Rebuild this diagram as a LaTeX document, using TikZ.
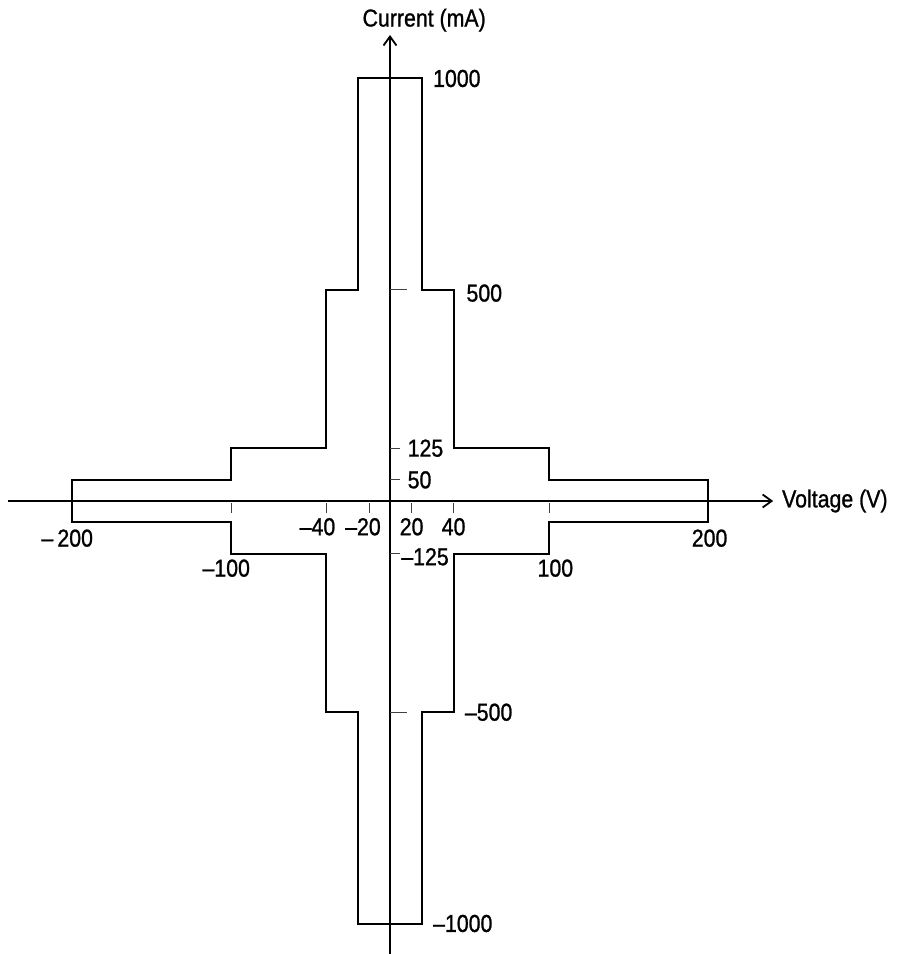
\documentclass[tikz,border=0pt]{standalone}
\usepackage{fontspec}
\setmainfont{Liberation Sans}[FakeStretch=0.87, FakeBold=1]
\usetikzlibrary{arrows.meta}

\tikzstyle{axis}=[draw=black, line width=2.4pt, -{Straight Barb[length=9pt,width=13pt,line width=1.8pt]}]
\tikzstyle{outline}=[draw=black, line width=2pt, line join=miter]
\tikzstyle{tick}=[draw=black!75, line width=0.9pt]
\tikzstyle{lbl}=[font=\fontsize{24.5}{29}\selectfont, inner sep=0pt]

\begin{document}
\begin{tikzpicture}[x=1.59pt, y=0.4225pt]
\useasboundingbox (-390pt,-453pt) rectangle (513pt,501pt);

% axes
\coordinate (vleft) at (-240.3,0);
\coordinate (vright) at (241,0);
\coordinate (ibottom) at (0,-1072);
\coordinate (itop) at (0,1103);

% safe operating area, one quadrant at a time
\foreach \sx/\sy in {1/1,-1/1,-1/-1,1/-1} {
    \draw[outline, xscale=\sx, yscale=\sy]
        (0,1000) -- (20,1000) -- (20,500) -- (40,500) -- (40,125)
        -- (100,125) -- (100,50) -- (200,50) -- (200,0);
}

\path[axis] (vleft) -- (vright);
\path[axis] (ibottom) -- (itop);

% ticks
\foreach \v in {-100,-40,-13.2,13.2,40,100} {
    \path[tick] (\v,-2pt) -- ++(0,-10pt);
}
\foreach \i in {50,125,-125} {
    \path[tick] (0,\i) -- ++(10pt,0);
}
\foreach \i in {500,-500} {
    \path[tick] (0,\i) -- ++(17pt,0);
}

% labels
\node[lbl] (ilabel) at (21.5,1138) {Current (mA)};
\node[lbl, anchor=west] (vlabel) at (246.5,0) {Voltage (V)};

\node[lbl, anchor=west] (i1000) at (27,1000) {1000};
\node[lbl, anchor=west] (i500) at (48,492) {500};
\node[lbl, anchor=west] (i125) at (11,125) {125};
\node[lbl, anchor=west] (i50) at (11,50) {50};
\node[lbl, anchor=west] (im125) at (7,-132) {–125};
\node[lbl, anchor=west] (im500) at (47,-500) {–500};
\node[lbl, anchor=west] (im1000) at (27,-1000) {–1000};

\node[lbl] (v20) at (13.6,-61) {20};
\node[lbl] (v40) at (40,-61) {40};
\node[lbl] (vm20) at (-17,-61) {–20};
\node[lbl] (vm40) at (-45.6,-61) {–40};
\node[lbl] (v100) at (104,-159) {100};
\node[lbl] (vm100) at (-103,-159) {–100};
\node[lbl] (v200) at (201,-88) {200};
\node[lbl] (vm200) at (-203,-88) {–\,200};
\end{tikzpicture}
\end{document}
